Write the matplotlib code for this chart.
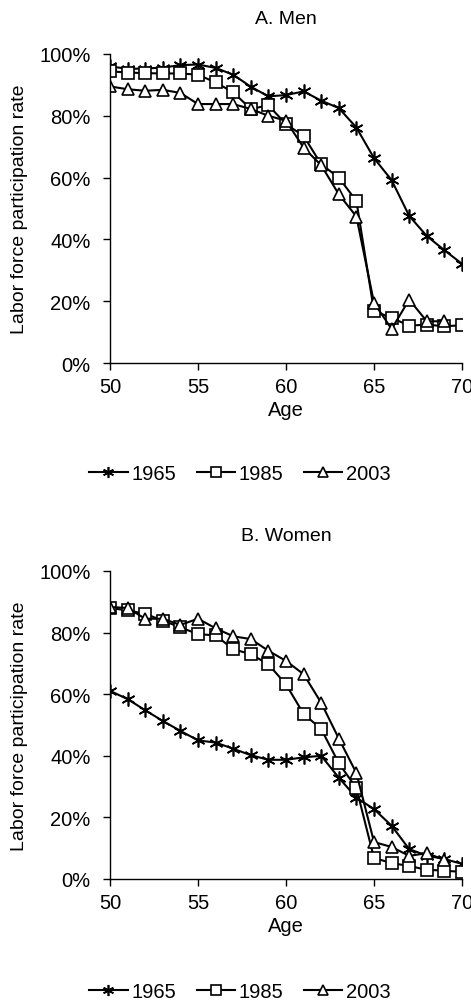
import matplotlib
matplotlib.use("Agg")
import matplotlib.pyplot as plt
from matplotlib.ticker import PercentFormatter

plt.rcParams['font.family'] = ['Liberation Sans', 'DejaVu Sans']
plt.rcParams['font.size'] = 14.5

ages = list(range(50, 71))
ages_2003 = list(range(50, 70))

# men, share of population in labor force (%)
men_1965 = [96, 95.2, 95.3, 95.6, 96.4, 96.6, 95.5, 93.3, 89.4, 86.3, 86.7,
            87.9, 84.9, 82.5, 76.2, 66.3, 59.2, 47.6, 41.1, 36.5, 32.1]
men_1985 = [94.4, 94, 93.8, 93.7, 93.7, 93.3, 90.8, 87.6, 82.2, 83.4, 77.3,
            73.5, 64.3, 60, 52.4, 16.8, 14.6, 12.1, 12.4, 11.9, 12.2]
men_2003 = [89.5, 88.6, 88.1, 88.4, 87.4, 83.8, 83.8, 83.8, 82.2, 80, 78.4,
            69.7, 64, 54.6, 47.4, 19.5, 11, 20.5, 13.5, 13.5]

# women
women_1965 = [61.1, 58.4, 54.8, 51.3, 48.1, 45, 44.3, 42.3, 40.2, 38.7, 38.7,
              39.5, 40, 32.9, 26.4, 22.7, 17.3, 9.7, 7.6, 6.5, 4.9]
women_1985 = [88, 87.2, 86.1, 83.9, 81.7, 79.5, 79.1, 74.6, 73, 69.7, 63.2,
              53.6, 48.7, 37.6, 29.5, 6.8, 5.2, 4.2, 3, 2.7, 2.3]
women_2003 = [88.3, 88, 84.5, 84.5, 82.5, 84.5, 81.4, 78.8, 77.9, 74.1, 70.8,
              66.5, 57.2, 45.6, 34.4, 12, 10.4, 7.5, 8.4, 6.2]

years = ['1965', '1985', '2003']
markers = [(6, 2, 0), 's', '^']
msizes = [10, 9, 9]

fig = plt.figure(figsize=(4.71, 10.03), dpi=100)
W, H = 471, 1003


def make_panel(top_px, bottom_px, title, series):
    ax = fig.add_axes([110 / W, 1 - bottom_px / H, (462 - 110) / W,
                       (bottom_px - top_px) / H])
    handles = []
    for (x, y), yr, mk, ms in zip(series, years, markers, msizes):
        h, = ax.plot(x, y, color='black', lw=1.5, marker=mk, ms=ms,
                     mfc='white', mec='black', mew=1.2, label=yr)
        handles.append(h)
    ax.set_xlim(50, 70)
    ax.set_ylim(0, 100)
    ax.set_xticks([50, 55, 60, 65, 70])
    ax.set_yticks(range(0, 101, 20))
    ax.yaxis.set_major_formatter(PercentFormatter(decimals=0))
    for s in ['top', 'right']:
        ax.spines[s].set_visible(False)
    ax.spines['left'].set_linewidth(1.0)
    ax.spines['bottom'].set_linewidth(1.0)
    ax.tick_params(direction='out', length=5, width=1.0)
    ax.tick_params(axis='y', pad=9)
    ax.tick_params(axis='x', pad=5)
    ax.set_xlabel('Age', labelpad=3)
    ax.set_ylabel('Labor force participation rate', labelpad=8, fontsize=14)
    ax.set_title(title, pad=22, fontsize=14)
    for s in ax.spines.values():
        s.set_clip_on(False)
    return ax, handles


ax1, h1 = make_panel(55, 364, 'A. Men',
                     [(ages, men_1965), (ages, men_1985), (ages_2003, men_2003)])
ax2, h2 = make_panel(572, 880, 'B. Women',
                     [(ages, women_1965), (ages, women_1985), (ages_2003, women_2003)])

for lg_y, hs in [(475, h1), (993, h2)]:
    fig.legend(hs, years, loc='center', bbox_to_anchor=(240 / W, 1 - lg_y / H),
               ncol=3, frameon=False, handlelength=1.9, handletextpad=0.2,
               columnspacing=1.0, markerscale=0.8, fontsize=14.5)

fig.savefig('out.png', dpi=100)
